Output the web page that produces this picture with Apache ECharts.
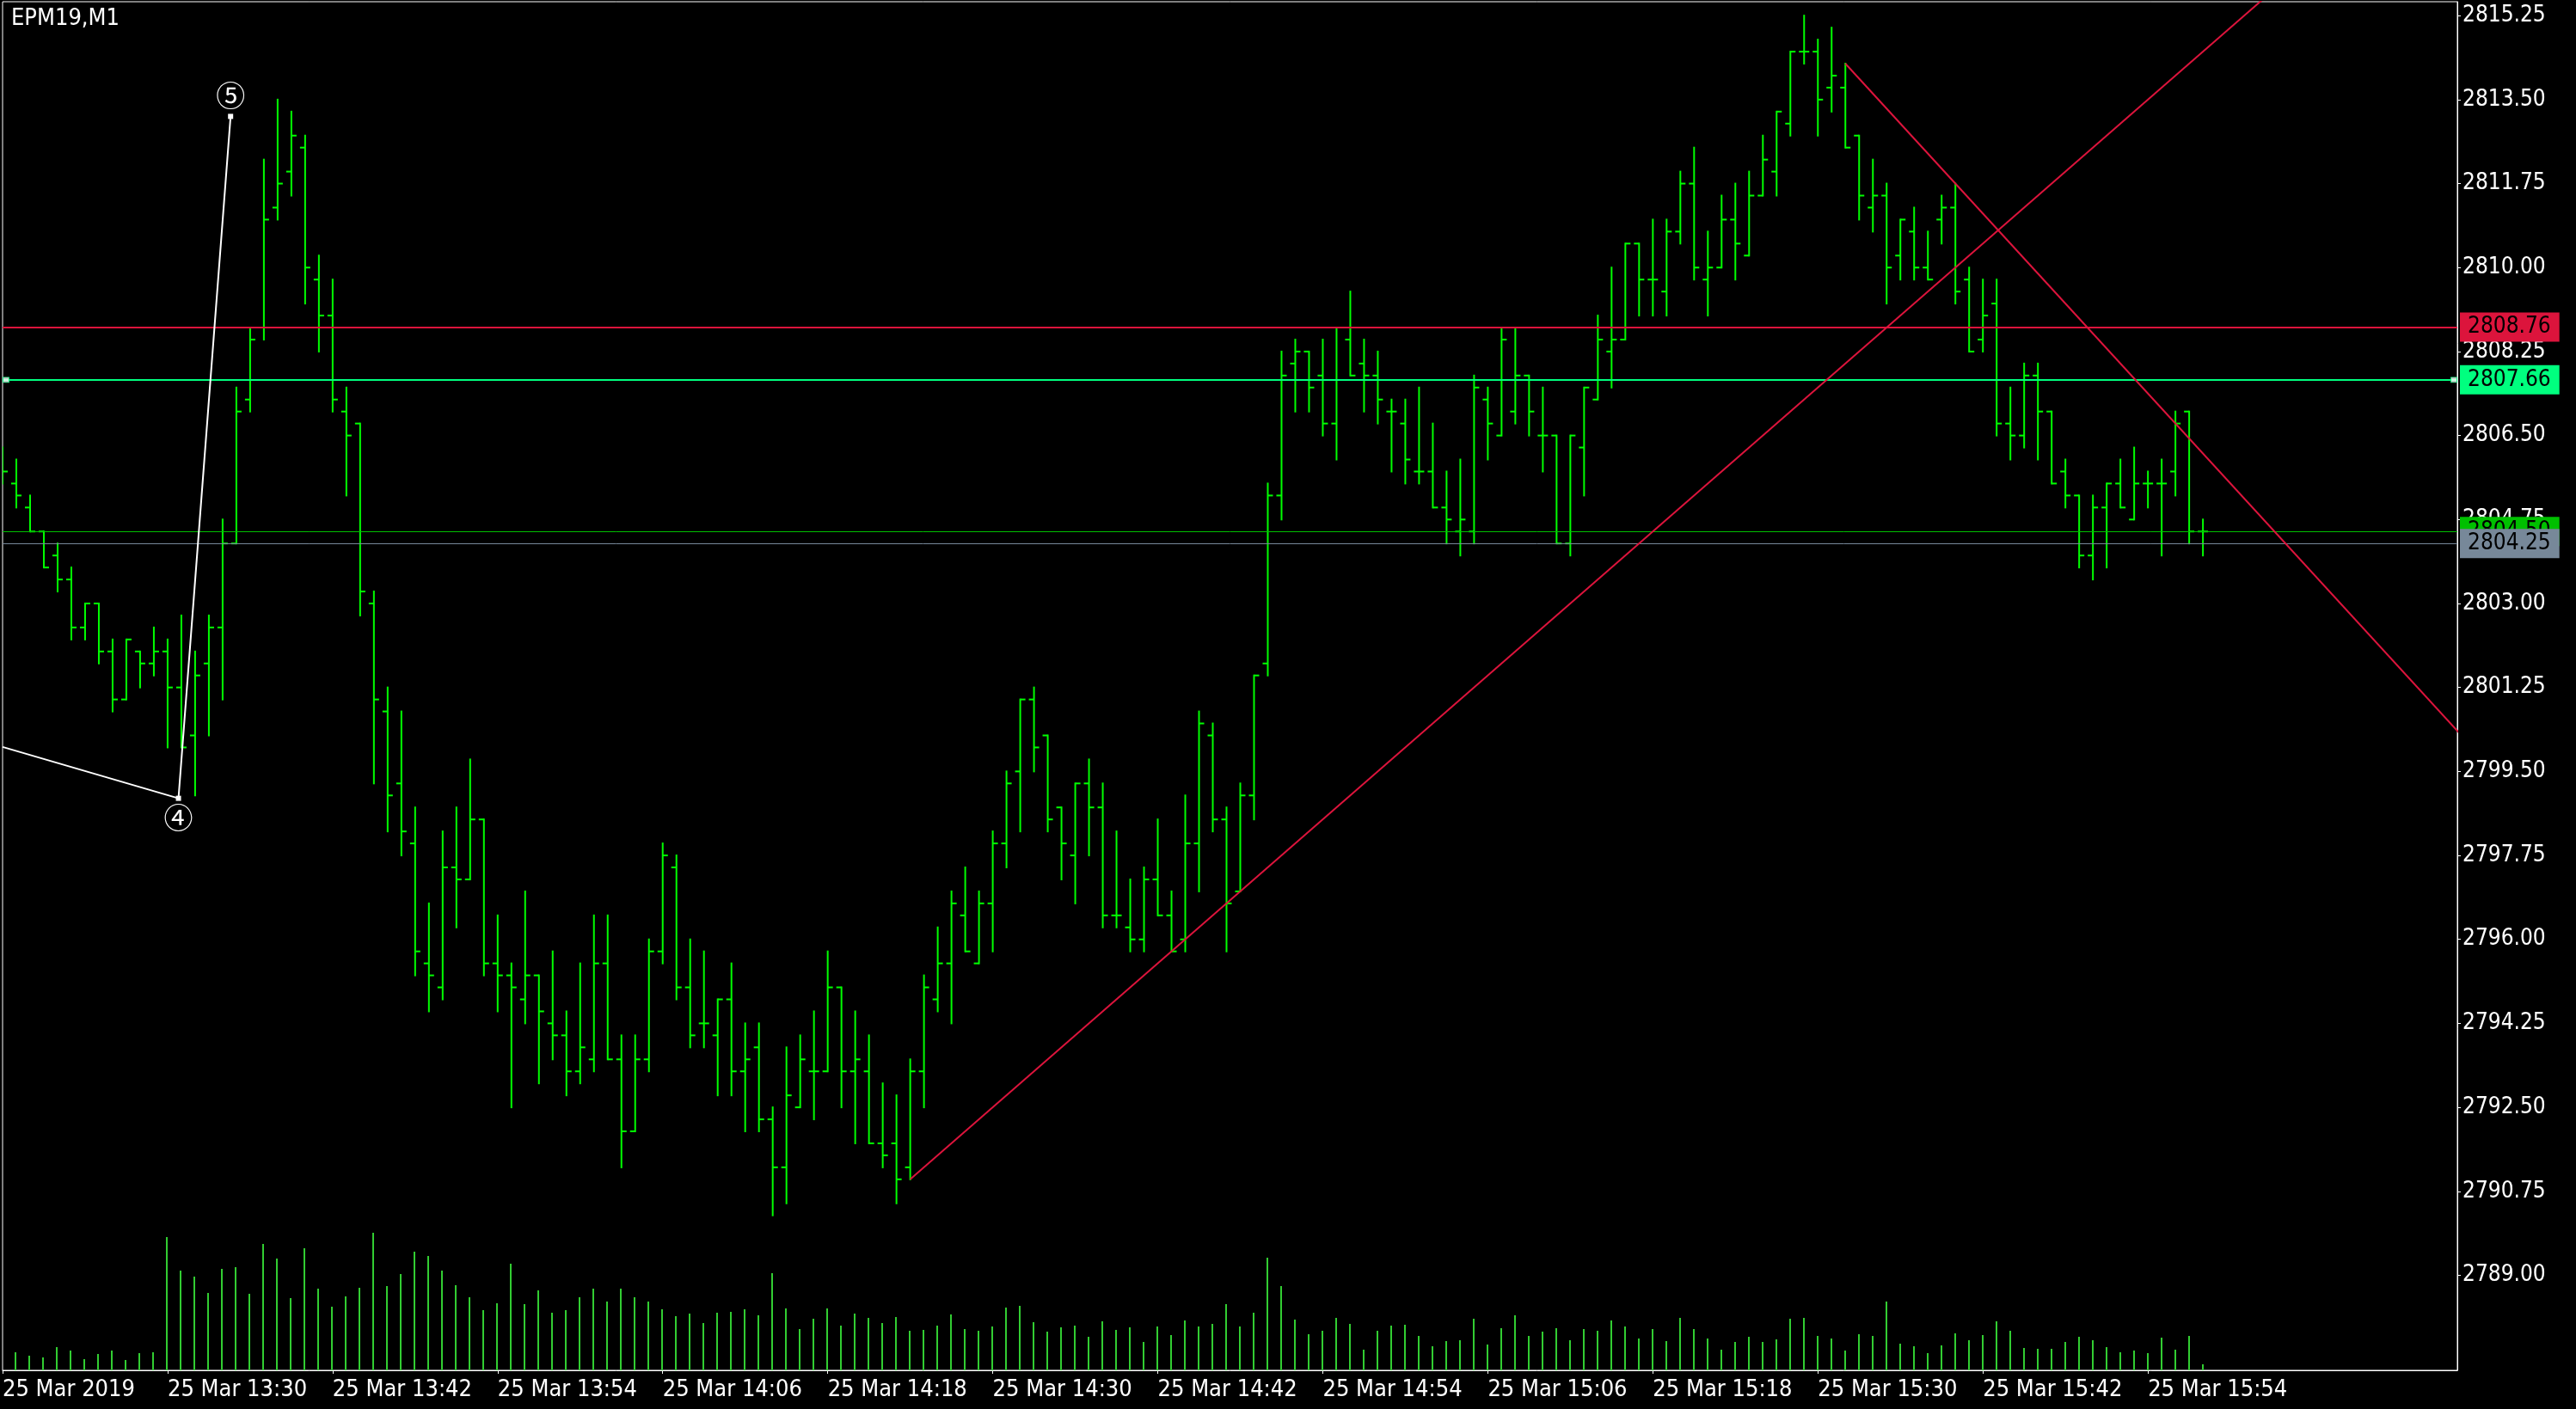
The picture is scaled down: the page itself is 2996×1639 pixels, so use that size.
<!DOCTYPE html>
<html><head><meta charset="utf-8">
<style>html,body{margin:0;padding:0;background:#000;overflow:hidden}#chart{width:2996px;height:1639px}</style>
<script src="https://cdn.jsdelivr.net/npm/echarts@6.0.0/dist/echarts.min.js"></script>
</head><body><div id="chart"></div>
<script>
const chartTitle = 'EPM19,M1';
const barTimes = ['13:18','13:19','13:20','13:21','13:22','13:23','13:24','13:25','13:26','13:27','13:28','13:29','13:30','13:31','13:32','13:33','13:34','13:35','13:36','13:37','13:38','13:39','13:40','13:41','13:42','13:43','13:44','13:45','13:46','13:47','13:48','13:49','13:50','13:51','13:52','13:53','13:54','13:55','13:56','13:57','13:58','13:59',
'14:00','14:01','14:02','14:03','14:04','14:05','14:06','14:07','14:08','14:09','14:10','14:11','14:12','14:13','14:14','14:15','14:16','14:17','14:18','14:19','14:20','14:21','14:22','14:23','14:24','14:25','14:26','14:27','14:28','14:29','14:30','14:31','14:32','14:33','14:34','14:35','14:36','14:37','14:38','14:39','14:40','14:41','14:42','14:43','14:44','14:45','14:46','14:47','14:48','14:49','14:50','14:51','14:52','14:53','14:54','14:55','14:56','14:57','14:58','14:59',
'15:00','15:01','15:02','15:03','15:04','15:05','15:06','15:07','15:08','15:09','15:10','15:11','15:12','15:13','15:14','15:15','15:16','15:17','15:18','15:19','15:20','15:21','15:22','15:23','15:24','15:25','15:26','15:27','15:28','15:29','15:30','15:31','15:32','15:33','15:34','15:35','15:36','15:37','15:38','15:39','15:40','15:41','15:42','15:43','15:44','15:45','15:46','15:47','15:48','15:49','15:50','15:51','15:52','15:53','15:54','15:55','15:56','15:57','15:58'];
const opens = [2806.0,
2805.5,2805.0,2804.5,2804.0,2803.5,2802.5,2803.0,2802.0,2801.0,2802.0,
2801.75,2802.0,2801.25,2800.25,2801.75,2802.5,2804.25,2807.25,2808.75,2811.25,
2812.0,2812.5,2809.75,2809.0,2807.0,2806.75,2803.0,2800.75,2799.25,2798.0,
2795.5,2795.0,2797.5,2797.25,2798.5,2795.5,2795.25,2794.75,2795.25,2794.25,
2794.0,2793.25,2793.5,2795.5,2793.5,2792.0,2793.5,2795.75,2797.5,2795.0,
2794.25,2794.0,2794.75,2793.25,2793.75,2792.25,2791.25,2792.5,2793.25,2793.25,
2795.0,2793.25,2793.25,2791.75,2791.75,2791.25,2793.25,2794.75,2795.5,2796.5,
2795.5,2796.75,2798.0,2799.5,2801.0,2800.25,2798.75,2797.75,2799.25,2798.75,
2796.5,2796.25,2796.0,2797.25,2796.5,2796.0,2798.0,2800.25,2798.5,2797.0,
2799.0,2801.75,2805.25,2808.0,2808.25,2807.75,2806.75,2808.5,2808.0,2807.75,
2807.0,2806.75,2805.75,2805.75,2805.0,2804.5,2804.5,2807.25,2806.5,2807.0,
2807.75,2806.5,2806.5,2804.25,2806.25,2807.25,2808.25,2808.5,2810.5,2809.75,
2809.5,2810.75,2811.75,2809.75,2810.0,2811.0,2810.25,2811.5,2812.0,2813.0,
2814.5,2814.5,2813.75,2813.75,2812.75,2811.25,2811.5,2810.25,2810.75,2810.0,
2811.0,2811.25,2809.75,2808.5,2809.25,2806.75,2806.5,2807.75,2807.0,2805.75,
2805.25,2804.0,2805.0,2805.5,2804.75,2805.5,2805.5,2805.75,2807.0,2804.5];
const highs = [2806.25,
2806.0,2805.25,2804.5,2804.25,2803.75,2803.0,2803.0,2802.25,2802.25,2802.0,
2802.5,2802.25,2802.75,2802.0,2802.75,2804.75,2807.5,2808.75,2812.25,2813.5,
2813.25,2812.75,2810.25,2809.75,2807.5,2806.75,2803.25,2801.25,2800.75,2798.75,
2796.75,2798.25,2798.75,2799.75,2798.5,2796.5,2795.5,2797.0,2795.25,2795.75,
2794.5,2795.5,2796.5,2796.5,2794.0,2794.0,2796.0,2798.0,2797.75,2796.0,
2795.75,2794.75,2795.5,2794.25,2794.25,2792.5,2793.75,2794.0,2794.5,2795.75,
2795.0,2794.5,2794.0,2793.0,2792.75,2793.5,2795.25,2796.25,2797.0,2797.5,
2797.0,2798.25,2799.5,2801.0,2801.25,2800.25,2798.75,2799.25,2799.75,2799.25,
2798.25,2797.25,2797.5,2798.5,2797.0,2799.0,2800.75,2800.5,2798.75,2799.25,
2801.5,2805.5,2808.25,2808.5,2808.25,2808.5,2808.75,2809.5,2808.5,2808.25,
2807.25,2807.25,2807.5,2806.75,2805.75,2806.0,2807.75,2807.5,2808.75,2808.75,
2807.75,2807.5,2806.5,2806.5,2807.5,2809.0,2810.0,2810.5,2810.5,2811.0,
2811.0,2812.0,2812.5,2810.75,2811.5,2811.75,2812.0,2812.75,2813.25,2814.5,
2815.25,2814.75,2815.0,2814.25,2812.75,2812.25,2811.75,2811.0,2811.25,2810.75,
2811.5,2811.75,2810.0,2809.75,2809.75,2807.5,2808.0,2808.0,2807.0,2806.0,
2805.25,2805.25,2805.5,2806.0,2806.25,2805.75,2806.0,2807.0,2807.0,2804.75];
const lows = [2805.5,
2805.0,2804.5,2803.75,2803.25,2802.25,2802.25,2801.75,2800.75,2801.0,2801.25,
2801.5,2800.0,2800.0,2799.0,2800.25,2801.0,2804.25,2807.0,2808.5,2811.0,
2811.5,2809.25,2808.25,2807.0,2805.25,2802.75,2799.25,2798.25,2797.75,2795.25,
2794.5,2794.75,2796.25,2797.25,2795.25,2794.5,2792.5,2794.25,2793.0,2793.5,
2792.75,2793.0,2793.25,2793.5,2791.25,2792.0,2793.25,2795.5,2794.75,2793.75,
2793.75,2792.75,2792.75,2792.0,2792.0,2790.25,2790.5,2792.5,2792.25,2793.25,
2792.5,2791.75,2791.75,2791.25,2790.5,2791.0,2792.5,2794.5,2794.25,2795.75,
2795.5,2795.75,2797.5,2798.25,2799.5,2798.25,2797.25,2796.75,2797.75,2796.25,
2796.25,2795.75,2795.75,2796.5,2795.75,2795.75,2797.0,2798.25,2795.75,2797.0,
2798.5,2801.5,2804.75,2807.0,2807.0,2806.5,2806.0,2807.75,2807.0,2806.75,
2805.75,2805.5,2805.5,2805.0,2804.25,2804.0,2804.25,2806.0,2806.5,2806.75,
2806.5,2805.75,2804.25,2804.0,2805.25,2807.25,2807.5,2808.5,2809.0,2809.0,
2809.0,2810.5,2809.75,2809.0,2810.0,2809.75,2810.25,2811.5,2811.5,2812.75,
2814.25,2812.75,2813.25,2812.5,2811.0,2810.75,2809.25,2809.75,2809.75,2809.75,
2810.5,2809.25,2808.25,2808.25,2806.5,2806.0,2806.25,2806.0,2805.5,2805.0,
2803.75,2803.5,2803.75,2805.0,2804.75,2805.0,2804.0,2805.25,2804.25,2804.0];
const closes = [2805.75,
2805.25,2804.5,2803.75,2803.5,2802.5,2803.0,2802.0,2801.0,2802.25,2801.75,
2802.0,2801.25,2800.0,2801.5,2802.5,2804.25,2807.0,2808.5,2811.0,2811.75,
2812.75,2810.0,2809.0,2807.25,2806.5,2803.25,2801.0,2799.0,2798.25,2795.75,
2795.25,2797.5,2797.25,2798.5,2795.5,2795.25,2795.0,2795.25,2794.5,2794.0,
2793.25,2793.75,2795.5,2793.5,2792.0,2793.5,2795.75,2797.75,2795.0,2794.0,
2794.25,2794.75,2793.25,2793.5,2792.25,2791.25,2792.75,2793.5,2793.25,2795.0,
2793.25,2793.5,2791.75,2791.5,2791.0,2793.25,2795.0,2795.5,2796.75,2795.75,
2796.75,2798.0,2799.25,2801.0,2800.0,2798.5,2798.0,2799.25,2798.75,2796.5,
2796.5,2796.0,2797.25,2796.5,2795.75,2798.0,2800.5,2798.5,2796.75,2799.0,
2801.5,2805.25,2807.75,2808.25,2807.5,2806.75,2808.75,2807.75,2807.75,2807.25,
2807.0,2806.0,2805.75,2805.0,2804.75,2804.75,2807.5,2806.75,2808.5,2807.75,
2807.0,2806.5,2804.25,2806.5,2807.5,2808.5,2808.5,2810.5,2809.75,2809.75,
2810.75,2811.75,2810.0,2810.0,2811.0,2810.5,2811.5,2812.25,2813.25,2814.5,
2814.5,2813.5,2814.0,2812.5,2811.5,2811.5,2810.0,2811.0,2810.0,2809.75,
2811.25,2809.5,2808.25,2809.0,2806.75,2806.5,2807.75,2807.0,2805.5,2805.25,
2804.0,2805.0,2805.5,2805.0,2805.5,2805.5,2805.5,2806.75,2804.5,2804.5];
const volumes = [null,
210,170,150,270,230,130,190,230,120,200,
210,1550,1160,1090,900,1180,1200,890,1470,1300,
840,1420,950,740,860,960,1600,980,1120,1380,
1330,1160,990,850,700,780,1240,770,930,670,
700,850,950,800,950,850,800,710,630,660,
550,670,680,710,640,1130,720,480,600,720,
520,660,610,550,620,460,470,520,650,480,
460,510,730,750,560,450,500,520,390,570,
470,500,330,510,410,580,510,540,770,510,
670,1310,980,590,420,460,610,540,240,460,
520,530,400,280,340,350,600,300,490,640,
400,450,490,350,480,460,580,510,370,480,
340,610,480,370,240,330,390,330,360,600,
610,400,370,230,420,400,800,310,280,200,
290,430,350,410,570,460,260,250,250,330,
390,350,270,210,230,200,380,240,400,70];
const priceTicks = [2789.00,2790.75,2792.50,2794.25,2796.00,2797.75,2799.50,2801.25,2803.00,2804.75,2806.50,2808.25,2810.00,2811.75,2813.50,2815.25];
const timeTickIdx = [0,12,24,36,48,60,72,84,96,108,120,132,144,156];
const timeTickLabels = ['25 Mar 2019','25 Mar 13:30','25 Mar 13:42','25 Mar 13:54','25 Mar 14:06','25 Mar 14:18','25 Mar 14:30','25 Mar 14:42','25 Mar 14:54','25 Mar 15:06','25 Mar 15:18','25 Mar 15:30','25 Mar 15:42','25 Mar 15:54'];
const hLinePrices = [2808.76, 2807.66, 2804.50, 2804.25];
const trendUp = [[66, 2791.0], [94, 2798.0]];
const trendDown = [[134, 2814.25], [158, 2806.75]];
const wavePoints = [[0, 2800.01], [12.79, 2798.94], [16.58, 2813.15]];
const waveLabels = ['', '④', '⑤'];

// ---- styling / layout ----
const F = "'DejaVu Sans Condensed','DejaVu Sans',sans-serif";
const X_MIN = 0, X_MAX = 178.5;
const Y_MIN = 2787.02, Y_MAX = 2815.54;
const hLineColors = ['#DC143C', '#00FF7F', '#00C000', '#778899'];
const hLineWidths = [2, 2, 1, 1];
const GRID = {left: 2, right: 138, top: 2, bottom: 45};

function ray(a, b, xEnd) {
  const s = (b[1] - a[1]) / (b[0] - a[0]);
  return [a, [xEnd, a[1] + s * (xEnd - a[0])]];
}

const chart = echarts.init(document.getElementById('chart'), null, {renderer: 'canvas'});
const option = {
  backgroundColor: '#000000',
  animation: false,
  grid: [
    Object.assign({show: true, borderColor: '#ffffff', borderWidth: 1, backgroundColor: 'transparent'}, GRID),
    Object.assign({show: false}, GRID)
  ],
  xAxis: [{
    type: 'value', gridIndex: 0, min: X_MIN, max: X_MAX,
    splitLine: {show: false},
    axisLine: {show: true, onZero: false, lineStyle: {color: '#ffffff', width: 1}},
    axisTick: {show: true, customValues: timeTickIdx, length: 4, lineStyle: {color: '#ffffff'}},
    axisLabel: {
      customValues: timeTickIdx, color: '#ffffff', fontFamily: F, fontSize: 27, lineHeight: 27, align: 'left', margin: 9,
      formatter: v => { const k = timeTickIdx.indexOf(Math.round(v)); return k >= 0 ? timeTickLabels[k] : ''; }
    }
  }, {
    type: 'value', gridIndex: 1, min: X_MIN, max: X_MAX, show: false,
    axisLine: {show: false, onZero: false}, axisTick: {show: false}, axisLabel: {show: false}, splitLine: {show: false}
  }],
  yAxis: [{
    type: 'value', gridIndex: 0, position: 'right', min: Y_MIN, max: Y_MAX,
    splitLine: {show: false},
    axisLine: {show: true, onZero: false, lineStyle: {color: '#ffffff', width: 1}},
    axisTick: {show: true, customValues: priceTicks, length: 4, lineStyle: {color: '#ffffff'}},
    axisLabel: {customValues: priceTicks, color: '#ffffff', fontFamily: F, fontSize: 26, margin: 6, formatter: v => v.toFixed(2)}
  }, {
    type: 'value', gridIndex: 1, min: 0, max: 15920, show: false,
    axisLine: {show: false, onZero: false}, axisTick: {show: false}, axisLabel: {show: false}, splitLine: {show: false}
  }],
  graphic: [{
    type: 'text', left: 13, top: 8, z: 100,
    style: {text: chartTitle, fill: '#ffffff', font: '27px ' + F}
  }],
  series: [
    {
      name: 'Volume', type: 'custom', xAxisIndex: 1, yAxisIndex: 1, clip: true, z: 1,
      data: volumes.map((v, i) => [i, v]),
      encode: {x: 0, y: 1},
      renderItem: (params, api) => {
        const i = api.value(0), v = api.value(1);
        if (!(v > 0)) return null;
        const p0 = api.coord([i, 0]);
        const p1 = api.coord([i, v]);
        return {type: 'line', shape: {x1: p0[0], y1: p0[1], x2: p1[0], y2: p1[1]}, style: {stroke: '#32CD32', lineWidth: 2}};
      }
    },
    {
      name: 'EPM19', type: 'custom', clip: true, z: 2,
      data: opens.map((o, i) => [i, o, highs[i], lows[i], closes[i]]),
      encode: {x: 0, y: [1, 2, 3, 4]},
      renderItem: (params, api) => {
        const i = api.value(0);
        const pO = api.coord([i, api.value(1)]);
        const pH = api.coord([i, api.value(2)]);
        const pL = api.coord([i, api.value(3)]);
        const pC = api.coord([i, api.value(4)]);
        const x = pH[0];
        const st = {stroke: '#00FF00', lineWidth: 2};
        return {type: 'group', children: [
          {type: 'line', shape: {x1: x, y1: pH[1] - 1, x2: x, y2: pL[1] + 1}, style: st},
          {type: 'line', shape: {x1: x - 6, y1: pO[1], x2: x, y2: pO[1]}, style: st},
          {type: 'line', shape: {x1: x, y1: pC[1], x2: x + 6, y2: pC[1]}, style: st}
        ]};
      },
      markLine: {
        silent: true, symbol: ['none', 'none'], animation: false, z: 5,
        label: {show: true, position: 'end', distance: 3, color: '#000000', fontFamily: F, fontSize: 26, lineHeight: 26, padding: [4, 10, 4, 9],
          formatter: p => Number(p.value).toFixed(2)},
        data: hLinePrices.map((p, k) => ({
          yAxis: p,
          lineStyle: {color: hLineColors[k], width: hLineWidths[k], type: 'solid'},
          label: {backgroundColor: hLineColors[k]}
        }))
      }
    },
    {
      name: 'handles', type: 'scatter', z: 6, symbol: 'rect', symbolSize: [7, 6],
      itemStyle: {color: '#ffffff', borderColor: '#00FF7F', borderWidth: 1},
      data: [[X_MIN + 0.25, hLinePrices[1]], [X_MAX - 0.25, hLinePrices[1]]], silent: true
    },
    {
      name: 'trendUp', type: 'line', clip: true, z: 7, symbol: 'none', silent: true,
      lineStyle: {color: '#DC143C', width: 2},
      data: ray(trendUp[0], trendUp[1], 200)
    },
    {
      name: 'trendDown', type: 'line', clip: true, z: 7, symbol: 'none', silent: true,
      lineStyle: {color: '#DC143C', width: 2},
      data: ray(trendDown[0], trendDown[1], 200)
    },
    {
      name: 'wave', type: 'line', clip: true, z: 8, symbol: 'rect', symbolSize: 6, showAllSymbol: true, silent: true,
      lineStyle: {color: '#ffffff', width: 2},
      itemStyle: {color: '#ffffff'},
      data: wavePoints.map((p, k) => k === 0 ? {value: p, symbol: 'none'} : {
        value: p,
        label: {show: true, formatter: waveLabels[k], position: k === 1 ? 'bottom' : 'top', distance: k === 1 ? 2 : 4,
          color: '#ffffff', fontSize: 34, lineHeight: 34, fontFamily: "'Noto Sans CJK JP','Noto Sans CJK SC',sans-serif"}
      })
    }
  ]
};
chart.setOption(option);
</script>
</body></html>
